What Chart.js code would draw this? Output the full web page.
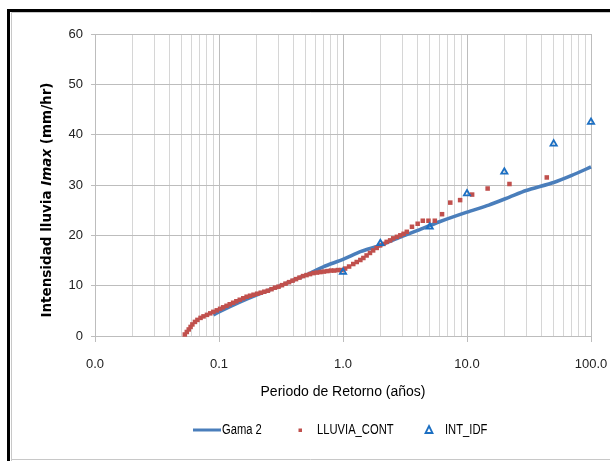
<!DOCTYPE html>
<html>
<head>
<meta charset="utf-8">
<script src="https://cdn.jsdelivr.net/npm/chart.js@4.4.0/dist/chart.umd.min.js"></script>
<style>
  html, body { margin: 0; padding: 0; background: #fff; }
  #wrap { width: 610px; height: 461px; }
</style>
</head>
<body>
<div id="wrap"><canvas id="chart" width="610" height="461"></canvas></div>
<script>
// Gama 2 fitted curve
const gamaX = [0.09, 0.1, 0.15, 0.2, 0.3, 0.4, 0.5, 0.7, 1.0, 1.4, 2.0, 3.0, 4.0, 6.0, 10.0, 15.0, 22.0, 30.0, 50.0, 70.0, 100.0];
const gamaY = [4.2, 4.8, 6.8, 8.1, 9.8, 11.1, 12.1, 13.8, 15.2, 16.8, 18.0, 19.8, 21.0, 22.7, 24.6, 26.0, 27.6, 28.9, 30.5, 31.9, 33.6];

// LLUVIA_CONT observed points
const lluviaX = [0.053, 0.055, 0.057, 0.059, 0.061, 0.064, 0.067, 0.071, 0.075, 0.080, 0.085, 0.090, 0.096, 0.102, 0.108, 0.115, 0.122, 0.130, 0.138, 0.147, 0.157, 0.167, 0.178, 0.190, 0.203, 0.217, 0.232, 0.248, 0.265, 0.283, 0.302, 0.322, 0.344, 0.367, 0.392, 0.418, 0.446, 0.476, 0.508, 0.542, 0.578, 0.617, 0.658, 0.702, 0.749, 0.80, 0.85, 0.91, 0.97, 1.04, 1.12, 1.21, 1.29, 1.38, 1.46, 1.55, 1.65, 1.75, 1.87, 1.99, 2.12, 2.25, 2.40, 2.54, 2.72, 2.90, 3.08, 3.27, 3.6, 4.0, 4.4, 4.89, 5.5, 6.29, 7.33, 8.8, 11.0, 14.67, 22.0, 44.0];
const lluviaY = [0.3, 0.8, 1.3, 1.8, 2.3, 2.8, 3.2, 3.6, 3.9, 4.2, 4.5, 4.8, 5.1, 5.4, 5.7, 6.0, 6.3, 6.6, 6.9, 7.2, 7.5, 7.8, 8.0, 8.2, 8.4, 8.6, 8.8, 9.0, 9.3, 9.6, 9.8, 10.1, 10.4, 10.7, 11.0, 11.3, 11.6, 11.9, 12.1, 12.3, 12.5, 12.6, 12.7, 12.8, 12.9, 13.0, 13.0, 13.1, 13.1, 13.4, 13.8, 14.3, 14.7, 15.1, 15.5, 16.0, 16.5, 17.0, 17.5, 18.0, 18.3, 18.7, 19.0, 19.4, 19.7, 20.0, 20.3, 20.7, 21.7, 22.3, 22.9, 22.9, 22.9, 24.2, 26.5, 27.0, 28.1, 29.3, 30.2, 31.5];

// INT_IDF points
const idfX = [1, 2, 5, 10, 20, 50, 100];
const idfY = [12.7, 18.4, 21.7, 28.3, 32.6, 38.2, 42.5];

// axis ticks
const decadeValues = [0.01, 0.1, 1, 10, 100];
const decadeLabels = ['0.0', '0.1', '1.0', '10.0', '100.0'];
const yMin = 0, yMax = 60, yStep = 10;

const sans = "'Liberation Sans', Arial, sans-serif";
const gridGray = '#bdbdbd';
const minorGray = '#d6d6d6';

function pts(xs, ys) { return xs.map((x, i) => ({ x: x, y: ys[i] })); }
function decadeIndex(v) {
  return decadeValues.findIndex(d => Math.abs(v / d - 1) < 1e-6);
}

// narrow text, like the Calibri of the original
function narrowText(c, txt, x, y) {
  c.save();
  c.translate(x, y);
  c.scale(0.8, 1);
  c.fillText(txt, 0, 0);
  c.restore();
}

const frameAndText = {
  id: 'frameAndText',
  beforeDraw(chart) {
    const c = chart.ctx;
    c.save();
    c.fillStyle = '#fff';
    c.fillRect(0, 0, chart.width, chart.height);
    c.restore();
  },
  afterDraw(chart) {
    const c = chart.ctx;
    c.save();
    // outer frame
    c.fillStyle = '#000';
    c.fillRect(7, 9, 3, 452);
    c.fillRect(7, 9, 603, 3);
    c.strokeStyle = '#c8c8c8';
    c.lineWidth = 1;
    c.beginPath();
    c.moveTo(11.5, 461); c.lineTo(11.5, 12.5); c.lineTo(610, 12.5);
    c.moveTo(11, 459.5); c.lineTo(610, 459.5);
    c.stroke();

    // y axis title with italic part
    const fs = '13.5px "DejaVu Sans"';
    const parts = [['bold ' + fs, 'Intensidad lluvia '], ['italic bold ' + fs, 'Imax'], ['bold ' + fs, ' (mm/hr)']];
    let total = 0;
    parts.forEach(p => { c.font = p[0]; total += c.measureText(p[1]).width; });
    c.translate(47, 200);
    c.rotate(-Math.PI / 2);
    c.fillStyle = '#000';
    c.textBaseline = 'middle';
    c.textAlign = 'left';
    let x = -total / 2;
    parts.forEach(p => { c.font = p[0]; c.fillText(p[1], x, 0); x += c.measureText(p[1]).width; });
    c.restore();

    // legend
    const ds = chart.data.datasets;
    const ly = 430;
    c.save();
    c.font = '14px ' + sans;
    c.fillStyle = '#000';
    c.textBaseline = 'middle';
    c.strokeStyle = ds[0].borderColor;
    c.lineWidth = 3;
    c.beginPath(); c.moveTo(193, ly); c.lineTo(221, ly); c.stroke();
    narrowText(c, ds[0].label, 222, ly);
    c.fillStyle = ds[1].backgroundColor;
    c.fillRect(298.5, ly - 1.5, 3.5, 3.5);
    c.fillStyle = '#000';
    narrowText(c, ds[1].label, 317, ly);
    c.strokeStyle = ds[2].borderColor;
    c.lineWidth = 1.8;
    c.beginPath();
    c.moveTo(429, ly - 4); c.lineTo(432.5, ly + 3); c.lineTo(425.5, ly + 3); c.closePath();
    c.stroke();
    narrowText(c, ds[2].label, 445, ly);
    c.restore();
  }
};

new Chart(document.getElementById('chart').getContext('2d'), {
  type: 'scatter',
  data: {
    datasets: [
      {
        label: 'Gama 2',
        data: pts(gamaX, gamaY),
        showLine: true,
        borderColor: '#4a7ebb',
        backgroundColor: '#4a7ebb',
        borderWidth: 3.5,
        pointRadius: 0,
        tension: 0.2,
        order: 3,
        clip: false
      },
      {
        label: 'LLUVIA_CONT',
        data: pts(lluviaX, lluviaY),
        pointStyle: 'rect',
        pointRadius: 3.2,
        borderWidth: 0,
        backgroundColor: '#c0504d',
        borderColor: '#c0504d',
        order: 2,
        clip: false
      },
      {
        label: 'INT_IDF',
        data: pts(idfX, idfY),
        pointStyle: 'triangle',
        pointRadius: 3.6,
        borderWidth: 1.8,
        backgroundColor: 'rgba(255,255,255,0)',
        borderColor: '#1c6fc2',
        order: 1,
        clip: false
      }
    ]
  },
  options: {
    responsive: false,
    animation: false,
    devicePixelRatio: 1,
    layout: { padding: { left: 0, top: 34, right: 19, bottom: 60 } },
    plugins: { legend: { display: false }, tooltip: { enabled: false } },
    scales: {
      x: {
        type: 'logarithmic',
        position: 'bottom',
        min: 0.01,
        max: 100,
        afterBuildTicks(s) {
          s.ticks = s.ticks.filter(t => {
            const m = t.value / Math.pow(10, Math.floor(Math.log10(t.value) + 1e-9));
            return Math.abs(m - Math.round(m)) < 1e-6;
          });
        },
        afterFit(s) { s.height = 65; s.paddingLeft = 0; s.paddingRight = 0; },
        grid: {
          color: ctx => decadeIndex(ctx.tick.value) >= 0 ? gridGray : minorGray,
          tickColor: ctx => decadeIndex(ctx.tick.value) >= 0 ? gridGray : 'rgba(0,0,0,0)',
          tickLength: 6,
          lineWidth: 1
        },
        border: { color: gridGray },
        ticks: {
          autoSkip: false,
          maxRotation: 0,
          padding: 15,
          color: '#222',
          font: { family: sans, size: 13 },
          callback: v => { const i = decadeIndex(v); return i >= 0 ? decadeLabels[i] : ''; }
        },
        title: {
          display: true,
          text: 'Periodo de Retorno (años)',
          color: '#000',
          padding: 0,
          font: { family: sans, size: 14 }
        }
      },
      y: {
        min: yMin,
        max: yMax,
        afterFit(s) { s.width = 95; },
        grid: { color: gridGray, tickColor: gridGray, tickLength: 4, lineWidth: 1 },
        border: { color: gridGray },
        ticks: {
          stepSize: yStep,
          padding: 8,
          color: '#222',
          font: { family: sans, size: 13 }
        }
      }
    }
  },
  plugins: [frameAndText]
});
</script>
</body>
</html>
